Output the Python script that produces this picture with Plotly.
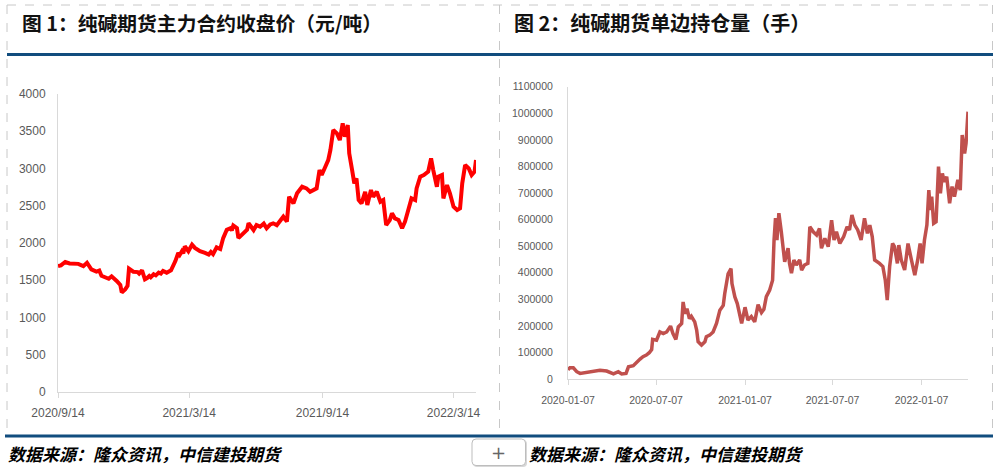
import plotly.graph_objects as go

W, H = 993, 467

# ---------------- data ----------------
titles = ["图 1：纯碱期货主力合约收盘价（元/吨）", "图 2：纯碱期货单边持仓量（手）"]
source_text = "数据来源：隆众资讯，中信建投期货"

price_dates = [
    "2020-09-14", "2020-09-18", "2020-09-24", "2020-09-30", "2020-10-12", "2020-10-16", "2020-10-19",
    "2020-10-24", "2020-10-30", "2020-11-06", "2020-11-10", "2020-11-13", "2020-11-20", "2020-11-23",
    "2020-11-27", "2020-11-30", "2020-12-04", "2020-12-09", "2020-12-11", "2020-12-16", "2020-12-19",
    "2020-12-21", "2020-12-24", "2020-12-27", "2021-01-02", "2021-01-04", "2021-01-08", "2021-01-12",
    "2021-01-15", "2021-01-18", "2021-01-20", "2021-01-24", "2021-01-27", "2021-01-31", "2021-02-03",
    "2021-02-06", "2021-02-11", "2021-02-17", "2021-02-23", "2021-02-27", "2021-03-01", "2021-03-04",
    "2021-03-06", "2021-03-08", "2021-03-13", "2021-03-18", "2021-03-22", "2021-03-29", "2021-04-05",
    "2021-04-10", "2021-04-13", "2021-04-16", "2021-04-21", "2021-04-26", "2021-04-30", "2021-05-05",
    "2021-05-10", "2021-05-12", "2021-05-14", "2021-05-19", "2021-05-21", "2021-05-26", "2021-06-02",
    "2021-06-04", "2021-06-06", "2021-06-11", "2021-06-15", "2021-06-20", "2021-06-25", "2021-06-29",
    "2021-07-04", "2021-07-08", "2021-07-13", "2021-07-18", "2021-07-22", "2021-07-27", "2021-07-30",
    "2021-08-05", "2021-08-10", "2021-08-17", "2021-08-23", "2021-08-28", "2021-09-02", "2021-09-06",
    "2021-09-10", "2021-09-13", "2021-09-18", "2021-09-22", "2021-09-25", "2021-09-29", "2021-10-04",
    "2021-10-08", "2021-10-12", "2021-10-15", "2021-10-19", "2021-10-21", "2021-10-25", "2021-10-28",
    "2021-10-31", "2021-11-03", "2021-11-07", "2021-11-12", "2021-11-15", "2021-11-20", "2021-11-23",
    "2021-11-28", "2021-12-03", "2021-12-07", "2021-12-11", "2021-12-16", "2021-12-19", "2021-12-23",
    "2021-12-28", "2022-01-02", "2022-01-06", "2022-01-11", "2022-01-15", "2022-01-20", "2022-01-22",
    "2022-01-27", "2022-02-01", "2022-02-07", "2022-02-11", "2022-02-14", "2022-02-19", "2022-02-21",
    "2022-02-26", "2022-02-28", "2022-03-05", "2022-03-09", "2022-03-14", "2022-03-19", "2022-03-23",
    "2022-03-26", "2022-03-30", "2022-04-04", "2022-04-08", "2022-04-12", "2022-04-14",
]
price_values = [
    1690, 1700, 1745, 1725, 1720, 1705, 1690,
    1735, 1646, 1615, 1630, 1560, 1535, 1520,
    1553, 1530, 1491, 1438, 1336, 1380, 1425,
    1655, 1640, 1615, 1610, 1590, 1633, 1513,
    1530, 1557, 1540, 1580, 1565, 1602, 1590,
    1624, 1602, 1633, 1757, 1867, 1840, 1890,
    1860, 1956, 1890, 1978, 1934, 1890, 1867,
    1845, 1880, 1850, 1942, 1920, 2066, 2177,
    2199, 2170, 2235, 2199, 2066, 2110, 2177,
    2265, 2243, 2174, 2240, 2219, 2260, 2197,
    2250, 2264, 2240, 2300, 2353, 2286, 2621,
    2532, 2667, 2755, 2733, 2688, 2711, 2733,
    2979, 2912, 3024, 3113, 3248, 3516, 3472,
    3382, 3606, 3426, 3583, 3203, 2979, 2801,
    2868, 2577, 2532, 2688, 2510, 2711, 2621,
    2688, 2554, 2577, 2241, 2308, 2398, 2331,
    2308, 2197, 2286, 2442, 2599, 2577, 2733,
    2890, 2912, 2957, 3136, 2979, 2755, 2890,
    2912, 2599, 2778, 2667, 2487, 2442, 2465,
    2801, 3046, 3002, 2912, 2957, 3113,
]

oi_dates = [
    "2020-01-07", "2020-01-11", "2020-01-18", "2020-01-25", "2020-02-01", "2020-02-15", "2020-02-28",
    "2020-03-13", "2020-03-27", "2020-04-10", "2020-04-20", "2020-04-27", "2020-05-06", "2020-05-11",
    "2020-05-21", "2020-05-28", "2020-06-04", "2020-06-10", "2020-06-17", "2020-06-23", "2020-06-28",
    "2020-06-30", "2020-07-08", "2020-07-15", "2020-07-22", "2020-07-29", "2020-08-06", "2020-08-11",
    "2020-08-17", "2020-08-22", "2020-08-29", "2020-09-01", "2020-09-05", "2020-09-09", "2020-09-14",
    "2020-09-18", "2020-09-25", "2020-09-29", "2020-10-02", "2020-10-09", "2020-10-16", "2020-10-19",
    "2020-10-26", "2020-11-02", "2020-11-09", "2020-11-16", "2020-11-23", "2020-11-26", "2020-11-30",
    "2020-12-03", "2020-12-07", "2020-12-09", "2020-12-11", "2020-12-17", "2020-12-22", "2020-12-26",
    "2020-12-31", "2021-01-07", "2021-01-13", "2021-01-20", "2021-01-27", "2021-02-03", "2021-02-10",
    "2021-02-15", "2021-02-20", "2021-02-27", "2021-03-05", "2021-03-08", "2021-03-11", "2021-03-14",
    "2021-03-18", "2021-03-23", "2021-03-27", "2021-03-30", "2021-04-06", "2021-04-09", "2021-04-13",
    "2021-04-18", "2021-04-23", "2021-04-30", "2021-05-04", "2021-05-10", "2021-05-17", "2021-05-21",
    "2021-05-28", "2021-06-04", "2021-06-10", "2021-06-14", "2021-06-21", "2021-06-28", "2021-07-05",
    "2021-07-10", "2021-07-15", "2021-07-22", "2021-07-30", "2021-08-06", "2021-08-11", "2021-08-16",
    "2021-08-22", "2021-08-28", "2021-09-04", "2021-09-11", "2021-09-17", "2021-09-22", "2021-09-27",
    "2021-10-02", "2021-10-12", "2021-10-19", "2021-10-24", "2021-10-28", "2021-11-02", "2021-11-08",
    "2021-11-12", "2021-11-18", "2021-11-21", "2021-11-26", "2021-12-03", "2021-12-10", "2021-12-17",
    "2021-12-24", "2021-12-30", "2022-01-04", "2022-01-08", "2022-01-13", "2022-01-18", "2022-01-22",
    "2022-01-25", "2022-01-28", "2022-02-01", "2022-02-06", "2022-02-11", "2022-02-15", "2022-02-19",
    "2022-02-23", "2022-02-28", "2022-03-06", "2022-03-11", "2022-03-16", "2022-03-23", "2022-03-28",
    "2022-04-01", "2022-04-06", "2022-04-09", "2022-04-13",
]
oi_values = [
    35000, 42000, 42000, 27500, 21000, 25000, 27500,
    33000, 30000, 19000, 27500, 19000, 21000, 46000,
    50000, 65000, 75000, 84000, 90000, 99000, 111000,
    149000, 146000, 177000, 171000, 177000, 199000, 171000,
    149000, 196000, 209000, 290000, 246000, 265000, 227000,
    236000, 215000, 184000, 140000, 127500, 140000, 159000,
    165000, 177000, 209000, 259000, 277000, 321000, 359000,
    396000, 409000, 415000, 359000, 309000, 284000, 246000,
    209000, 270000, 222000, 235000, 215000, 280000, 250000,
    262000, 310000, 335000, 372000, 523000, 605000, 523000,
    624000, 554000, 498000, 441000, 492000, 435000, 398000,
    448000, 429000, 448000, 410000, 429000, 435000, 573000,
    554000, 542000, 567000, 492000, 529000, 498000, 598000,
    523000, 554000, 510000, 536000, 573000, 561000, 617000,
    579000, 561000, 523000, 605000, 548000, 579000, 536000,
    448000, 435000, 423000, 372000, 297000, 423000, 510000,
    498000, 435000, 504000, 448000, 410000, 510000, 448000,
    391000, 448000, 510000, 435000, 523000, 579000, 711000,
    636000, 686000, 586000, 592000, 799000, 699000, 774000,
    742000, 761000, 661000, 724000, 686000, 749000, 711000,
    918000, 849000, 887000, 1006000,
]

price_tick_dates = ["2020-09-14", "2021-03-14", "2021-09-14", "2022-03-14"]
price_tick_labels = ["2020/9/14", "2021/3/14", "2021/9/14", "2022/3/14"]
oi_tick_dates = ["2020-01-07", "2020-07-07", "2021-01-07", "2021-07-07", "2022-01-07"]
oi_tick_labels = ["2020-01-07", "2020-07-07", "2021-01-07", "2021-07-07", "2022-01-07"]

# ---------------- helpers (pixel -> paper) ----------------
def px(x):
    return x / W

def py(y):
    return 1 - y / H

CJK = "Noto Sans CJK SC, Noto Sans, sans-serif"
NUM = "Liberation Sans, Arial, sans-serif"
AXIS_GRAY = "#D9D9D9"
TICK_GRAY = "#595959"
BLUE = "#114D7E"
DASH_GRAY = "#C8C8C8"

fig = go.Figure()
fig.add_trace(go.Scatter(x=price_dates, y=price_values, mode="lines",
                         line=dict(color="#FF0000", width=4), xaxis="x", yaxis="y",
                         showlegend=False, hoverinfo="x+y"))
fig.add_trace(go.Scatter(x=oi_dates, y=oi_values, mode="lines",
                         line=dict(color="#C0504D", width=3.5), xaxis="x2", yaxis="y2",
                         showlegend=False, hoverinfo="x+y"))

common_x = dict(type="date", showgrid=False, zeroline=False, showline=True, linecolor=AXIS_GRAY,
                linewidth=1, ticks="outside", tickcolor=AXIS_GRAY, ticklen=5, fixedrange=True,
                automargin=False)
common_y = dict(showgrid=False, zeroline=False, showline=True, linecolor=AXIS_GRAY, linewidth=1,
                ticks="", fixedrange=True, automargin=False)

fig.update_layout(
    template="none",
    width=W, height=H, autosize=False,
    margin=dict(l=0, r=0, t=0, b=0, pad=0),
    paper_bgcolor="white", plot_bgcolor="white",
    showlegend=False,
    xaxis=dict(common_x, domain=[px(58), px(476)], range=["2020-09-14", "2022-04-14"],
               tickmode="array", tickvals=price_tick_dates, ticktext=price_tick_labels,
               tickfont=dict(family=NUM, size=12, color=TICK_GRAY), anchor="y",
               ticklabelstandoff=5),
    yaxis=dict(common_y, domain=[py(392), py(94)], range=[0, 4000], dtick=500, tick0=0,
               tickfont=dict(family=NUM, size=12, color=TICK_GRAY), anchor="x",
               ticklabelstandoff=9),
    xaxis2=dict(common_x, domain=[px(568), px(968)], range=["2020-01-07", "2022-04-13"],
                tickmode="array", tickvals=oi_tick_dates, ticktext=oi_tick_labels,
                tickfont=dict(family=NUM, size=10.5, color=TICK_GRAY), anchor="y2",
                ticklabelstandoff=6),
    yaxis2=dict(common_y, domain=[py(379), py(86.7)], range=[0, 1100000], dtick=100000, tick0=0,
                tickformat="d",
                tickfont=dict(family=NUM, size=10.5, color=TICK_GRAY), anchor="x2",
                ticklabelstandoff=12),
)

shapes = []
# dashed frame
for (x0, y0, x1, y1) in [(7, 5, 992, 5), (7, 5, 7, 436), (499.5, 5, 499.5, 436), (992.5, 5, 992.5, 436)]:
    shapes.append(dict(type="line", xref="paper", yref="paper", x0=px(x0), y0=py(y0), x1=px(x1), y1=py(y1),
                       line=dict(color=DASH_GRAY, width=1, dash="dash"), layer="below"))
# blue rules
shapes.append(dict(type="line", xref="paper", yref="paper", x0=px(7), y0=py(54.5), x1=px(993), y1=py(54.5),
                   line=dict(color=BLUE, width=3)))
shapes.append(dict(type="line", xref="paper", yref="paper", x0=px(5), y0=py(436), x1=px(993), y1=py(436),
                   line=dict(color=BLUE, width=3)))

# plus button (rounded rect)
def rounded(x0, y0, x1, y1, r):
    rx, ry = r / W, r / H
    X0, X1 = px(x0), px(x1)
    Y0, Y1 = py(y0), py(y1)  # Y0 top, Y1 bottom
    return (f"M {X0+rx},{Y0} L {X1-rx},{Y0} Q {X1},{Y0} {X1},{Y0-ry} "
            f"L {X1},{Y1+ry} Q {X1},{Y1} {X1-rx},{Y1} L {X0+rx},{Y1} "
            f"Q {X0},{Y1} {X0},{Y1+ry} L {X0},{Y0-ry} Q {X0},{Y0} {X0+rx},{Y0} Z")

shapes.append(dict(type="path", xref="paper", yref="paper", path=rounded(473, 440, 527, 467, 4),
                   fillcolor="#D8D8D8", line=dict(width=0)))
shapes.append(dict(type="path", xref="paper", yref="paper", path=rounded(472, 439, 525.5, 465.5, 4),
                   fillcolor="white", line=dict(color="#BDBDBD", width=1)))
fig.update_layout(shapes=shapes)

annotations = [
    dict(text=f"<b>{titles[0]}</b>", x=px(20), y=py(22.5), xanchor="left", yanchor="middle",
         font=dict(family=CJK, size=19.8, color="#111111")),
    dict(text=f"<b>{titles[1]}</b>", x=px(512), y=py(22.5), xanchor="left", yanchor="middle",
         font=dict(family=CJK, size=20, color="#111111")),
    dict(text=f"<b><i>{source_text}</i></b>", x=px(6), y=py(453.5), xanchor="left", yanchor="middle",
         font=dict(family=CJK, size=17, color="#000000")),
    dict(text=f"<b><i>{source_text}</i></b>", x=px(527), y=py(453.5), xanchor="left", yanchor="middle",
         font=dict(family=CJK, size=17, color="#000000")),
    dict(text="+", x=px(499), y=py(452), xanchor="center", yanchor="middle",
         font=dict(family="DejaVu Sans", size=18, color="#666666")),
]
for a in annotations:
    a.update(xref="paper", yref="paper", showarrow=False)
fig.update_layout(annotations=annotations)

fig.write_html("out.html", config={"displayModeBar": False})
